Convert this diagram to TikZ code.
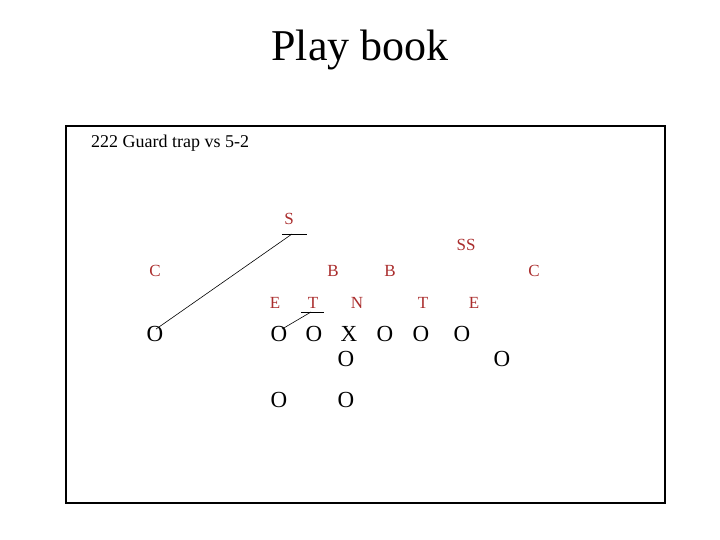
\documentclass[tikz,border=0pt]{standalone}
\usepackage{fontspec}
\setmainfont{Liberation Serif}
\definecolor{defred}{RGB}{170,45,45}
\tikzset{
  def/.style={text=defred, font=\fontsize{17}{17}\selectfont, inner sep=0pt},
  off/.style={text=black, font=\fontsize{23}{23}\selectfont, inner sep=0pt},
  blockline/.style={line width=0.8pt},
}
\begin{document}
\begin{tikzpicture}[x=1pt,y=-1pt]
\useasboundingbox (0,0) rectangle (720,540);
\node[inner sep=0pt] (title) at (360,50) {\fontsize{44}{44}\selectfont Play book};
\draw[line width=1.8pt] (66,126) rectangle (665,503);
\node[anchor=west, inner sep=0pt] (sub) at (91,143) {\fontsize{18}{18}\selectfont 222 Guard trap vs 5-2};
% defense
\node[def] (S) at (289,219) {S};
\node[def] (SS) at (466,245) {SS};
\node[def] (CL) at (155,271) {C};
\node[def] (B1) at (333,271) {B};
\node[def] (B2) at (390,271) {B};
\node[def] (CR) at (534,271) {C};
\node[def] (E1) at (275,303) {E};
\node[def] (T1) at (313,303) {T};
\node[def] (N) at (357,303) {N};
\node[def] (T2) at (423,303) {T};
\node[def] (E2) at (474,303) {E};
% offense
\node[off] (WR) at (155,334) {O};
\node[off] (LE) at (279,334) {O};
\node[off] (LG) at (314,334) {O};
\node[off] (CX) at (349,334) {X};
\node[off] (RG) at (385,334) {O};
\node[off] (RT) at (421,334) {O};
\node[off] (RE) at (462,334) {O};
\node[off] (QB) at (346,359) {O};
\node[off] (WB) at (502,359) {O};
\node[off] (HB) at (279,400) {O};
\node[off] (FB) at (346,400) {O};
% blocks
\coordinate (sL) at (282,234);
\coordinate (sR) at (307,234);
\coordinate (sM) at (292,234);
\coordinate (tL) at (301,312);
\coordinate (tR) at (324,312);
\coordinate (tM) at (311,312);
\draw[blockline] (sL) -- (sR);
\draw[blockline] (tL) -- (tR);
\draw[line width=0.6pt] ([xshift=1pt,yshift=-3pt]WR.north) -- (sM);
\draw[line width=0.6pt] ([xshift=3pt,yshift=-3pt]LE.north) -- (tM);
\end{tikzpicture}
\end{document}
